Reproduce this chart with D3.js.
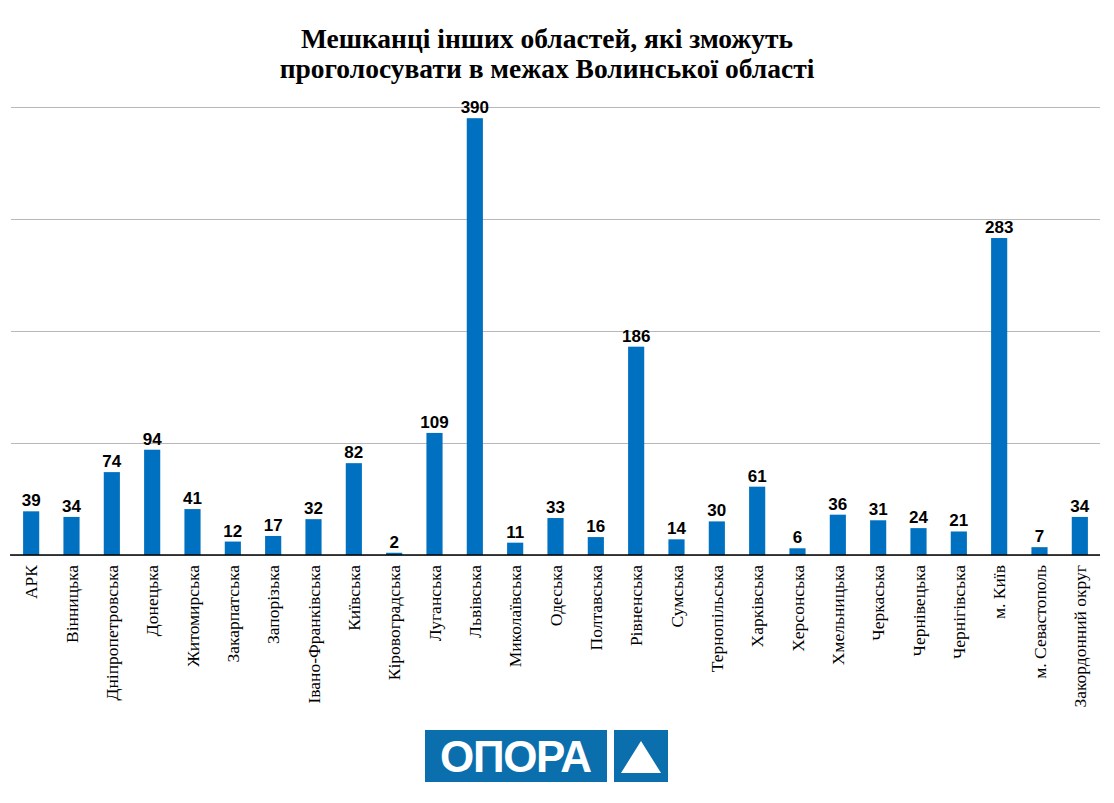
<!DOCTYPE html>
<html>
<head>
<meta charset="utf-8">
<script src="https://cdn.jsdelivr.net/npm/d3@7"></script>
<style>
  body { margin: 0; background: #fff; }
  .serif { font-family: "Liberation Serif", "DejaVu Serif", serif; }
  .sans { font-family: "Liberation Sans", Arial, sans-serif; }
</style>
</head>
<body>
<div id="chart"></div>
<script>
const width = 1114
const height = 803
const margin = ({top: 107, right: 14, bottom: 248, left: 11})

// data
const regions = ["АРК", "Вінницька", "Дніпропетровська", "Донецька", "Житомирська", "Закарпатська",
  "Запорізька", "Івано-Франківська", "Київська", "Кіровоградська", "Луганська", "Львівська",
  "Миколаївська", "Одеська", "Полтавська", "Рівненська", "Сумська", "Тернопільська", "Харківська",
  "Херсонська", "Хмельницька", "Черкаська", "Чернівецька", "Чернігівська", "м. Київ",
  "м. Севастополь", "Закордонний округ"]
const voters = [39, 34, 74, 94, 41, 12, 17, 32, 82, 2, 109, 390, 11, 33, 16, 186, 14, 30, 61, 6, 36, 31, 24, 21, 283, 7, 34]
const yTicks = [0, 100, 200, 300, 400]
const titleLines = ["Мешканці інших областей, які зможуть", "проголосувати в межах Волинської області"]

const data = regions.map((r, i) => ({region: r, value: voters[i]}))

const x = d3.scaleBand()
  .domain(regions)
  .range([margin.left, width - margin.right])
  .paddingInner(0.6)
  .paddingOuter(0.3)

const y = d3.scaleLinear()
  .domain([0, 400])
  .range([height - margin.bottom, margin.top])

const svg = d3.select("#chart").append("svg")
  .attr("width", width)
  .attr("height", height)
  .attr("viewBox", [0, 0, width, height])

// title
svg.append("g")
  .attr("class", "serif")
  .selectAll("text")
  .data(titleLines)
  .join("text")
  .attr("x", 547)
  .attr("y", (d, i) => 48 + i * 30)
  .attr("text-anchor", "middle")
  .attr("font-weight", "bold")
  .attr("font-size", 27.5)
  .text(d => d)

// gridlines
svg.append("g")
  .attr("transform", `translate(${margin.left},0)`)
  .call(d3.axisLeft(y).tickValues(yTicks).tickSize(-(width - margin.left - margin.right)).tickFormat(""))
  .call(g => g.select(".domain").remove())
  .call(g => g.selectAll(".tick line").attr("stroke", "#b8b8b8").attr("stroke-width", 1))

// bars
svg.append("g")
  .attr("fill", "#0070c0")
  .selectAll("rect")
  .data(data)
  .join("rect")
  .attr("x", d => x(d.region))
  .attr("y", d => y(d.value))
  .attr("width", x.bandwidth())
  .attr("height", d => y(0) - y(d.value))

// value labels
svg.append("g")
  .attr("class", "sans")
  .attr("font-weight", "bold")
  .attr("font-size", 17)
  .attr("text-anchor", "middle")
  .selectAll("text")
  .data(data)
  .join("text")
  .attr("x", d => x(d.region) + x.bandwidth() / 2)
  .attr("y", d => y(d.value) - 5)
  .text(d => d.value)

// x axis
svg.append("g")
  .attr("transform", `translate(0,${y(0)})`)
  .call(d3.axisBottom(x).tickSize(0).tickPadding(0))
  .attr("font-family", null)
  .attr("class", "serif")
  .call(g => g.select(".domain").attr("stroke", "#000").attr("stroke-width", 1.3)
    .attr("d", `M${margin.left - 1},0H${width - margin.right}`))
  .call(g => g.selectAll(".tick text")
    .attr("transform", "rotate(-90)")
    .attr("text-anchor", "end")
    .attr("x", -10)
    .attr("y", 0)
    .attr("dy", "0.35em")
    .attr("fill", "#000")
    .attr("font-size", 17.5))

// logo
const logo = svg.append("g").attr("transform", "translate(425,730)")
logo.append("rect").attr("width", 182).attr("height", 52).attr("fill", "#0b6fad")
logo.append("rect").attr("x", 189).attr("width", 54).attr("height", 52).attr("fill", "#0b6fad")
logo.append("text")
  .attr("class", "sans")
  .attr("x", 91).attr("y", 42)
  .attr("text-anchor", "middle")
  .attr("fill", "#fff")
  .attr("font-weight", "bold")
  .attr("font-size", 44)
  .attr("textLength", 152)
  .text("ОПОРА")
logo.append("path")
  .attr("d", "M216,11L236,43L196,43Z")
  .attr("fill", "#fff")
</script>
</body>
</html>
